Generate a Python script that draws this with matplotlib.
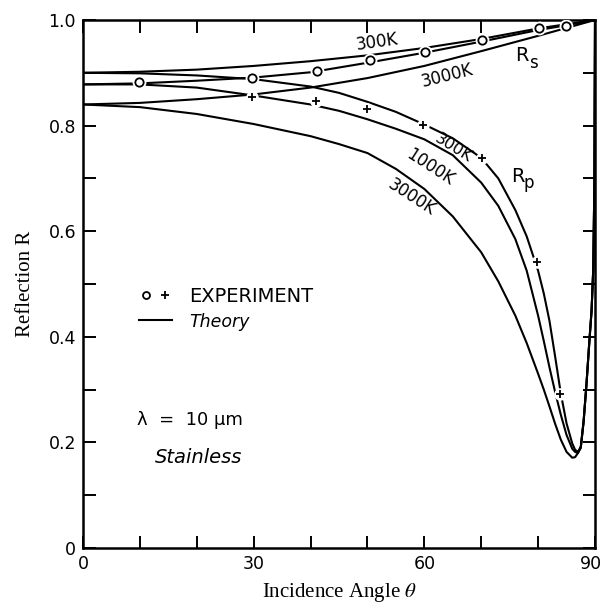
import matplotlib.pyplot as plt
import matplotlib.transforms as mtransforms
from matplotlib.lines import Line2D
from matplotlib.legend_handler import HandlerTuple

plt.rcParams['mathtext.fontset'] = 'stix'

# theory curves, Rs (s-polarisation)
theta_s = [0, 10, 20, 30, 40, 50, 60, 70, 80, 85, 90]
rs_300 = [0.900, 0.902, 0.906, 0.913, 0.922, 0.933, 0.947, 0.964, 0.984, 0.992, 1.0]
rs_1000 = [0.878, 0.880, 0.885, 0.891, 0.901, 0.919, 0.938, 0.959, 0.981, 0.990, 1.0]
rs_3000 = [0.840, 0.843, 0.850, 0.859, 0.872, 0.890, 0.913, 0.941, 0.970, 0.985, 1.0]

# theory curves, Rp (p-polarisation)
theta_p = [0, 10, 20, 30, 40, 45, 50, 55, 60, 65, 70, 73, 76, 78, 80, 81, 82, 83,
           84, 85, 86, 86.5, 87, 87.5, 88, 88.5, 89, 89.4, 89.7, 89.9, 90]
rp_300 = [0.900, 0.899, 0.895, 0.888, 0.874, 0.862, 0.845, 0.826, 0.802, 0.776, 0.739,
          0.700, 0.640, 0.590, 0.525, 0.482, 0.430, 0.362, 0.292, 0.236, 0.198, 0.186,
          0.182, 0.192, 0.240, 0.310, 0.390, 0.450, 0.530, 0.700, 1.0]
rp_1000 = [0.878, 0.878, 0.872, 0.857, 0.840, 0.828, 0.812, 0.794, 0.774, 0.744, 0.692,
           0.648, 0.585, 0.525, 0.440, 0.392, 0.342, 0.295, 0.252, 0.214, 0.188, 0.182,
           0.180, 0.190, 0.240, 0.310, 0.390, 0.450, 0.530, 0.700, 1.0]
rp_3000 = [0.840, 0.835, 0.822, 0.803, 0.780, 0.765, 0.748, 0.718, 0.680, 0.628, 0.560,
           0.505, 0.440, 0.388, 0.330, 0.300, 0.268, 0.235, 0.205, 0.182, 0.171, 0.172,
           0.180, 0.190, 0.240, 0.310, 0.390, 0.450, 0.530, 0.700, 1.0]

# experiment
exp_s_theta = [9.8, 29.7, 41.1, 50.4, 60.1, 70.1, 80.2, 84.9]
exp_s = [0.882, 0.890, 0.903, 0.924, 0.939, 0.962, 0.984, 0.989]
exp_p_theta = [29.7, 41.0, 50.0, 59.8, 70.1, 79.8, 83.8]
exp_p = [0.855, 0.846, 0.832, 0.802, 0.739, 0.541, 0.291]

fig = plt.figure(figsize=(6.04, 6.15), dpi=100)
ax = fig.add_axes([83 / 604, 1 - 548 / 615, 512 / 604, 528 / 615])

lw = 1.5
for r in [rs_300, rs_1000, rs_3000]:
    ax.plot(theta_s, r, color='black', lw=lw)
for r in [rp_300, rp_1000, rp_3000]:
    ax.plot(theta_p, r, color='black', lw=lw)

# white halo so the curves look broken at each data point
ax.plot(exp_s_theta, exp_s, ls='none', marker='o', ms=10, mfc='white', mec='none', zorder=3)
ax.plot(exp_p_theta, exp_p, ls='none', marker='o', ms=9, mfc='white', mec='none', zorder=3)
ax.plot(exp_s_theta, exp_s, ls='none', marker='o', ms=6, mfc='white', mec='black', mew=1.3, zorder=4)
ax.plot(exp_p_theta, exp_p, ls='none', marker='+', ms=6, color='black', mew=1.3, zorder=4)

# curve labels
lab = dict(fontsize=12, color='black', ha='center', va='center')
ax.text(51.7, 0.958, '300K', rotation=8, **lab)
ax.text(64.0, 0.894, '3000K', rotation=14, **lab)
ax.text(77.2, 0.932, 'R', fontsize=14, ha='center', va='center')
ax.text(79.2, 0.918, 's', fontsize=12, ha='center', va='center')
ax.text(65.2, 0.757, '300K', rotation=-32, fontsize=11.5, ha='center', va='center')
ax.text(61.0, 0.722, '1000K', rotation=-33, **lab)
ax.text(57.8, 0.664, '3000K', rotation=-33, **lab)
ax.text(76.4, 0.703, 'R', fontsize=14, ha='center', va='center')
ax.text(78.3, 0.692, 'p', fontsize=12, ha='center', va='center')

ax.text(0.105, 0.242, 'λ  =  10 µm', transform=ax.transAxes, fontsize=13, va='center')
ax.text(0.14, 0.172, 'Stainless', transform=ax.transAxes, fontsize=14, style='italic', va='center')

# legend
h_exp = (Line2D([], [], ls='none', marker='o', ms=5, mfc='white', mec='black', mew=1.3),
         Line2D([], [], ls='none', marker='+', ms=6, color='black', mew=1.3))
h_th = Line2D([], [], color='black', lw=lw)
leg = ax.legend([h_exp, h_th], ['EXPERIMENT', 'Theory'],
                handler_map={tuple: HandlerTuple(ndivide=None, pad=0.2)},
                loc='upper left', bbox_to_anchor=(0.075, 0.527), frameon=False,
                fontsize=14, handlelength=1.7, handletextpad=0.9, labelspacing=0.35)
leg.get_texts()[1].set_style('italic')
leg.get_texts()[1].set_fontsize(12.5)

ax.set_xlim(0, 90)
ax.set_ylim(0, 1)
ax.set_xticks([0, 30, 60, 90])
ax.set_xticks(range(0, 91, 10), minor=True)
ax.set_yticks([0, 0.2, 0.4, 0.6, 0.8, 1.0])
ax.set_yticklabels(['0', '0.2', '0.4', '0.6', '0.8', '1.0'])
ax.set_yticks([0.1, 0.3, 0.5, 0.7, 0.9], minor=True)
ax.tick_params(which='both', direction='in', top=True, right=True, width=1.4, labelsize=12.5)
ax.tick_params(which='major', length=9, pad=5)
ax.tick_params(which='minor', length=9)
for s in ax.spines.values():
    s.set_linewidth(1.8)

# keep the "90" label inside the figure
last = ax.get_xticklabels()[-1]
last.set_transform(last.get_transform() + mtransforms.ScaledTranslation(-4 / 100, 0, fig.dpi_scale_trans))

ax.set_xlabel(r'Incidence Angle $\theta$', fontsize=15, family='Liberation Serif', labelpad=6)
ax.set_ylabel('Reflection R', fontsize=15, family='Liberation Serif', labelpad=10)

fig.savefig('out.png', dpi=100)
